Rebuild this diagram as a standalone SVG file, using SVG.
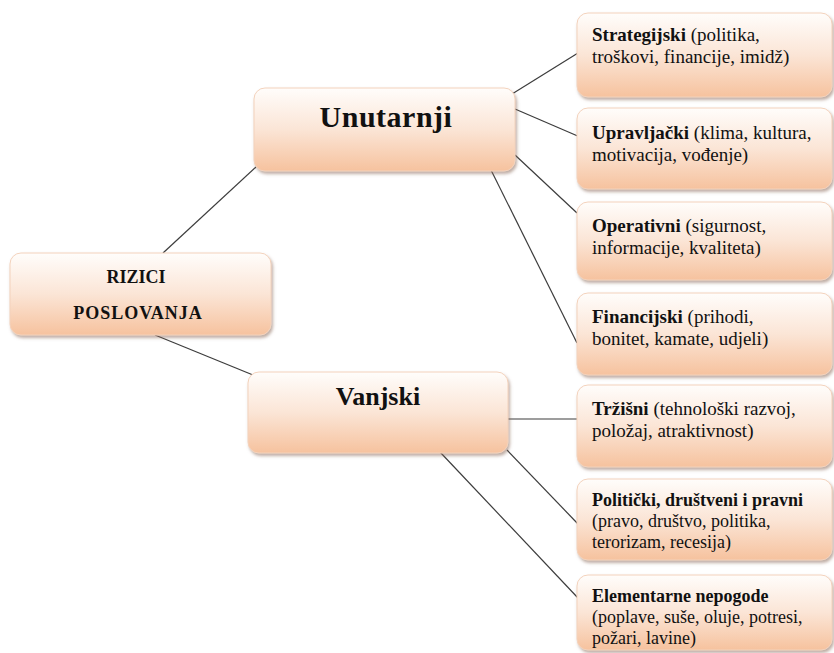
<svg xmlns="http://www.w3.org/2000/svg" width="834" height="653" viewBox="0 0 834 653" font-family="'Liberation Serif', 'Times New Roman', Tinos, 'DejaVu Serif', serif">
<defs>
<linearGradient id="g" x1="0" y1="0" x2="0" y2="1">
<stop offset="0" stop-color="#fffdfb"/>
<stop offset="0.5" stop-color="#fbe5d6"/>
<stop offset="1" stop-color="#f6c29e"/>
</linearGradient>
<filter id="sh" x="-10%" y="-10%" width="125%" height="135%">
<feDropShadow dx="1.5" dy="2.5" stdDeviation="1.5" flood-color="#8a6a5a" flood-opacity="0.55"/>
</filter>
</defs>
<style>
.box{fill:url(#g);stroke:#f3d2bc;stroke-width:1;filter:url(#sh)}
.ln{stroke:#3c3c3c;stroke-width:1.2;fill:none}
text{font-family:'Liberation Serif','Times New Roman',Tinos,'DejaVu Serif',serif;fill:#111}
.big{font-weight:bold;text-anchor:middle}
.t{font-size:19px}
.t2{font-size:18px}
.b{font-weight:bold}
</style>
<rect width="834" height="653" fill="#ffffff"/>
<g id="connectors">
<line class="ln" x1="163" y1="253" x2="256" y2="167"/>
<line class="ln" x1="155" y1="335" x2="253" y2="375"/>
<line class="ln" x1="512" y1="94" x2="578" y2="53"/>
<line class="ln" x1="515" y1="109" x2="580" y2="137"/>
<line class="ln" x1="515" y1="155" x2="577" y2="213"/>
<line class="ln" x1="490" y1="168" x2="577" y2="343"/>
<line class="ln" x1="508" y1="419" x2="578" y2="419"/>
<line class="ln" x1="507" y1="450" x2="578" y2="524"/>
<line class="ln" x1="440" y1="452" x2="578" y2="598"/>
</g>
<g id="rizici">
<rect class="box" x="10" y="253" width="261" height="82" rx="11"/>
<text class="big" x="136" y="283" font-size="18">RIZICI</text>
<text class="big" x="138" y="319" font-size="18" letter-spacing="1">POSLOVANJA</text>
</g>
<g id="unutarnji">
<rect class="box" x="254" y="88" width="261" height="83" rx="11"/>
<text class="big" x="386" y="127" font-size="30" letter-spacing="0.5">Unutarnji</text>
</g>
<g id="vanjski">
<rect class="box" x="248" y="372" width="260" height="81" rx="11"/>
<text class="big" x="378" y="405" font-size="26">Vanjski</text>
</g>
<g id="strategijski">
<rect class="box" x="577" y="13" width="255" height="84" rx="11"/>
<text class="t" x="592" y="41"><tspan class="b">Strategijski</tspan> (politika,</text>
<text class="t" x="592" y="63">troškovi, financije, imidž)</text>
</g>
<g id="upravljacki">
<rect class="box" x="577" y="108" width="255" height="81" rx="11"/>
<text class="t" x="592" y="139"><tspan class="b">Upravljački</tspan> (klima, kultura,</text>
<text class="t" x="592" y="161">motivacija, vođenje)</text>
</g>
<g id="operativni">
<rect class="box" x="577" y="202" width="255" height="78" rx="11"/>
<text class="t" x="592" y="232"><tspan class="b">Operativni</tspan> (sigurnost,</text>
<text class="t" x="592" y="254">informacije, kvaliteta)</text>
</g>
<g id="financijski">
<rect class="box" x="577" y="293" width="255" height="82" rx="11"/>
<text class="t" x="592" y="323"><tspan class="b">Financijski</tspan> (prihodi,</text>
<text class="t" x="592" y="345">bonitet, kamate, udjeli)</text>
</g>
<g id="trzisni">
<rect class="box" x="577" y="385" width="255" height="82" rx="11"/>
<text class="t" x="592" y="415"><tspan class="b">Tržišni</tspan> (tehnološki razvoj,</text>
<text class="t" x="592" y="437">položaj, atraktivnost)</text>
</g>
<g id="politicki">
<rect class="box" x="577" y="479" width="255" height="81" rx="11"/>
<text class="t2 b" x="592" y="506">Politički, društveni i pravni</text>
<text class="t2" x="592" y="527">(pravo, društvo, politika,</text>
<text class="t2" x="592" y="548">terorizam, recesija)</text>
</g>
<g id="elementarne">
<rect class="box" x="577" y="575" width="255" height="75" rx="11"/>
<text class="t2 b" x="592" y="602">Elementarne nepogode</text>
<text class="t2" x="592" y="623">(poplave, suše, oluje, potresi,</text>
<text class="t2" x="592" y="644">požari, lavine)</text>
</g>
</svg>
